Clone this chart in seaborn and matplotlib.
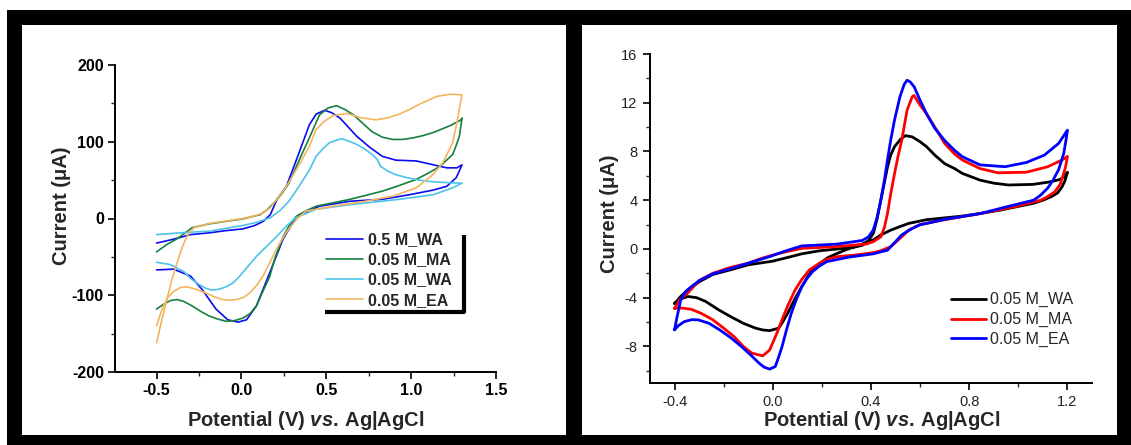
import numpy as np
import pandas as pd
import matplotlib
matplotlib.use("Agg")
import matplotlib.pyplot as plt
from matplotlib.patches import Rectangle
from matplotlib.ticker import MultipleLocator
import seaborn as sns

# ---- left panel: CV loops (potential V, current uA) ----
wa05_v = [-0.5, -0.4, -0.3, -0.19, -0.1, 0.01, 0.08, 0.13, 0.17, 0.21, 0.265, 0.33, 0.40, 0.44, 0.49, 0.53,
          0.58, 0.63, 0.68, 0.755, 0.83, 0.91, 1.03, 1.13, 1.21, 1.27, 1.3,
          1.28, 1.265, 1.21, 1.13, 0.99, 0.83, 0.64, 0.46, 0.4, 0.36, 0.32, 0.245, 0.166, 0.088, 0.03,
          -0.02, -0.08, -0.15, -0.23, -0.30, -0.40, -0.5]
wa05_i = [-32, -27, -21, -18.7, -16, -13.5, -9, -3.5, 5, 25, 42, 80, 122, 136, 141, 138,
          131, 119, 107, 93, 81, 76, 75, 70, 66, 66, 70,
          60, 53, 42, 37, 31, 25, 22.5, 16, 10, 6.5, 1, -27, -71, -114, -132,
          -135, -132, -118, -93, -75, -66, -67]

ma_v = [-0.5, -0.44, -0.38, -0.29, -0.19, -0.1, 0.01, 0.11, 0.15, 0.19, 0.24, 0.28, 0.34, 0.40, 0.46, 0.51,
        0.56, 0.61, 0.66, 0.72, 0.77, 0.83, 0.89, 0.95, 1.01, 1.07, 1.13, 1.23, 1.29, 1.3,
        1.284, 1.265, 1.245, 1.17, 1.1, 1.03, 0.93, 0.83, 0.64, 0.44, 0.38, 0.324, 0.285, 0.245, 0.2,
        0.166, 0.12, 0.088, 0.05, 0.01, -0.04, -0.09, -0.14, -0.19, -0.24, -0.29, -0.34, -0.38, -0.42,
        -0.46, -0.5]
ma_i = [-43.5, -34, -26.5, -12, -7, -4, -0.5, 5, 11, 20, 33, 46, 76, 105, 135, 144,
        147, 142, 135, 123, 113, 106, 103, 103, 105, 108, 112, 121, 128, 131,
        107, 95, 83.5, 68, 59, 51, 43, 35.6, 25, 16, 10, 3, -8, -24, -50,
        -76, -98, -114, -124, -129.6, -133, -134, -131, -127, -121, -114, -108, -105.6, -107,
        -112, -118]

wa_v = [-0.5, -0.35, -0.19, 0.01, 0.09, 0.17, 0.23, 0.28, 0.34, 0.40, 0.44, 0.48, 0.52, 0.59, 0.63, 0.68,
        0.73, 0.77, 0.8, 0.82, 0.86, 0.91, 0.98, 1.05, 1.12, 1.19, 1.3,
        1.245, 1.13, 0.93, 0.64, 0.44, 0.32, 0.26, 0.21, 0.15, 0.09, 0.04, -0.01, -0.05, -0.09, -0.13,
        -0.17, -0.21, -0.25, -0.3, -0.34, -0.42, -0.5]
wa_i = [-21, -18.5, -16.5, -9, -5, 1, 11, 22.6, 42, 63, 81, 91, 99, 104, 101, 96.5,
        90, 83.5, 77, 68, 62, 57, 53, 50, 48, 47, 46,
        40, 31, 25, 18, 12, 1, -11, -23, -36, -49, -62, -75, -84, -89, -92,
        -93.5, -91, -86, -78, -69, -60, -57]

ea_v = [-0.5, -0.47, -0.44, -0.41, -0.38, -0.35, -0.32, -0.28, -0.19, 0.01, 0.07, 0.13, 0.17, 0.2, 0.26,
        0.34, 0.40, 0.44, 0.49, 0.54, 0.62, 0.70, 0.79, 0.86, 0.93, 0.99, 1.05, 1.1, 1.15, 1.23, 1.3,
        1.29, 1.284, 1.265, 1.245, 1.21, 1.186, 1.127, 1.03, 0.89, 0.735, 0.54, 0.38, 0.33, 0.284,
        0.245, 0.206, 0.166, 0.127, 0.09, 0.049, 0.01, -0.03, -0.07, -0.11, -0.16, -0.21, -0.27,
        -0.32, -0.36, -0.40, -0.43, -0.46, -0.48, -0.5]
ea_i = [-162, -133, -106, -80, -58, -38, -23, -12, -6.5, 0, 3, 7.4, 14, 22.6, 40,
        70, 94, 116, 127, 134, 137, 131.5, 128.5, 131, 136, 142, 149, 154, 159, 162, 161,
        150, 142, 120, 99, 83, 72.5, 57, 40, 29, 22.6, 16, 9.6, 0, -12,
        -25, -40, -58, -75, -87, -97, -103, -105.6, -106.5, -105.6, -102, -97, -92,
        -89, -90, -95, -102, -114, -126, -140]

left_labels = ["0.5 M_WA", "0.05 M_MA", "0.05 M_WA", "0.05 M_EA"]
left_colors = ["#0b0bef", "#17803d", "#4cc3ea", "#f2b561"]

# ---- right panel ----
r_wa_v = [-0.4, -0.375, -0.346, -0.3, -0.245, -0.17, -0.1, 0.0, 0.06, 0.118, 0.19, 0.263, 0.33, 0.365,
          0.39, 0.41, 0.425, 0.44, 0.455, 0.467, 0.48, 0.496, 0.52, 0.54, 0.568, 0.6, 0.626, 0.66,
          0.70, 0.74, 0.772, 0.844, 0.9, 0.96, 1.06, 1.127, 1.17, 1.19, 1.2,
          1.19, 1.178, 1.16, 1.135, 1.1, 1.062, 0.99, 0.917, 0.84, 0.772, 0.7, 0.626, 0.554, 0.52,
          0.481, 0.44, 0.409, 0.37, 0.336, 0.3, 0.263, 0.225, 0.19, 0.15, 0.118, 0.09, 0.06, 0.04,
          0.024, -0.013, -0.04, -0.07, -0.12, -0.172, -0.22, -0.274, -0.31, -0.346, -0.375, -0.4]
r_wa_i = [-4.5, -3.9, -3.36, -2.7, -2.1, -1.7, -1.3, -1.0, -0.7, -0.4, -0.15, 0, 0.15, 0.3,
          0.7, 1.3, 2.5, 4.0, 5.5, 6.7, 7.7, 8.4, 9.0, 9.3, 9.2, 8.8, 8.4, 7.7,
          7.0, 6.6, 6.2, 5.65, 5.4, 5.25, 5.3, 5.5, 5.7, 6.0, 6.3,
          5.6, 5.1, 4.6, 4.3, 4.0, 3.75, 3.45, 3.15, 2.9, 2.7, 2.55, 2.4, 2.1, 1.85,
          1.55, 1.15, 0.74, 0.45, 0.2, -0.05, -0.36, -0.7, -1.2, -2.0, -3.1, -4.1, -5.3, -6.0,
          -6.5, -6.7, -6.65, -6.5, -6.1, -5.55, -5.0, -4.3, -4.0, -3.9, -4.1, -4.45]

r_ma_v = [-0.4, -0.38, -0.346, -0.3, -0.245, -0.17, -0.1, -0.05, 0.0, 0.06, 0.118, 0.263, 0.38, 0.41,
          0.44, 0.455, 0.467, 0.48, 0.496, 0.51, 0.525, 0.547, 0.568, 0.575, 0.6, 0.626, 0.66, 0.70,
          0.74, 0.772, 0.844, 0.917, 1.033, 1.12, 1.178, 1.2,
          1.193, 1.185, 1.17, 1.149, 1.12, 1.091, 0.99, 0.844, 0.70, 0.6, 0.554, 0.52, 0.481, 0.44,
          0.409, 0.336, 0.263, 0.22, 0.19, 0.15, 0.118, 0.09, 0.06, 0.04, 0.017, -0.013, -0.041,
          -0.085, -0.12, -0.157, -0.2, -0.245, -0.29, -0.332, -0.37, -0.4]
r_ma_i = [-4.9, -4.2, -3.6, -2.6, -2.0, -1.5, -1.17, -0.8, -0.5, -0.2, 0.05, 0.2, 0.4, 0.6,
          1.0, 1.8, 2.9, 4.5, 6.2, 7.6, 8.9, 11.4, 12.5, 12.6, 11.8, 11.1, 10.0, 8.66,
          7.8, 7.3, 6.6, 6.25, 6.3, 6.75, 7.3, 7.6,
          6.8, 6.2, 5.3, 4.7, 4.3, 4.0, 3.5, 2.9, 2.4, 2.0, 1.55, 0.9, 0.2, -0.15,
          -0.3, -0.5, -0.63, -0.85, -1.17, -1.7, -2.5, -3.4, -4.7, -5.7, -6.9, -8.3, -8.77,
          -8.55, -8.0, -7.2, -6.5, -5.8, -5.3, -4.95, -4.85, -4.86]

r_ea_v = [-0.4, -0.39, -0.375, -0.355, -0.332, -0.3, -0.245, -0.17, -0.1, -0.013, 0.046, 0.118, 0.263,
          0.365, 0.39, 0.409, 0.425, 0.44, 0.455, 0.467, 0.48, 0.496, 0.518, 0.535, 0.547, 0.56, 0.576,
          0.6, 0.626, 0.66, 0.70, 0.74, 0.772, 0.844, 0.946, 1.033, 1.106, 1.164, 1.2,
          1.193, 1.185, 1.164, 1.14, 1.12, 1.09, 1.062, 0.96, 0.844, 0.70, 0.597, 0.56, 0.525, 0.495,
          0.467, 0.409, 0.307, 0.22, 0.19, 0.162, 0.14, 0.118, 0.095, 0.075, 0.055, 0.038, 0.02, 0.01,
          -0.013, -0.035, -0.056, -0.09, -0.128, -0.17, -0.216, -0.26, -0.303, -0.33, -0.36, -0.385, -0.4]
r_ea_i = [-6.6, -5.6, -4.2, -3.5, -3.1, -2.6, -2.05, -1.6, -1.17, -0.63, -0.2, 0.25, 0.4,
          0.7, 1.0, 1.55, 2.6, 4.0, 5.7, 7.3, 8.9, 10.6, 12.5, 13.5, 13.85, 13.7, 13.3,
          12.2, 11.1, 9.9, 8.9, 8.1, 7.57, 6.9, 6.75, 7.1, 7.7, 8.66, 9.75,
          8.8, 7.85, 6.5, 5.6, 5.0, 4.4, 4.0, 3.5, 2.9, 2.43, 1.97, 1.6, 1.15, 0.5,
          -0.1, -0.4, -0.68, -1.04, -1.4, -1.86, -2.4, -3.1, -4.2, -5.3, -6.7, -8.0, -9.1, -9.65,
          -9.86, -9.7, -9.37, -8.7, -8.0, -7.3, -6.64, -6.1, -5.82, -5.8, -5.96, -6.3, -6.64]

right_labels = ["0.05 M_WA", "0.05 M_MA", "0.05 M_EA"]
right_colors = ["#000000", "#ff0000", "#0000ff"]


def build(vs, cs, labels):
    parts = []
    for v, c, lab in zip(vs, cs, labels):
        parts.append(pd.DataFrame({"potential": v, "current": c, "sample": lab}))
    return pd.concat(parts, ignore_index=True)


df_left = build([wa05_v, ma_v, wa_v, ea_v], [wa05_i, ma_i, wa_i, ea_i], left_labels)
df_right = build([r_wa_v, r_ma_v, r_ea_v], [r_wa_i, r_ma_i, r_ea_i], right_labels)

sns.set_theme(style="ticks")
plt.rcParams["font.family"] = ["Liberation Sans", "DejaVu Sans"]
plt.rcParams["axes.unicode_minus"] = False
plt.rcParams["mathtext.fontset"] = "custom"
plt.rcParams["mathtext.it"] = "Liberation Sans:italic:bold"
plt.rcParams["mathtext.rm"] = "Liberation Sans:bold"

W, H = 1131, 445
fig = plt.figure(figsize=(W / 100, H / 100), dpi=100, facecolor="white")

# black frame and white panels (behind the axes)
fig.patches.append(Rectangle((7 / W, 0), 1 - 7 / W, 1 - 10 / H, transform=fig.transFigure,
                             facecolor="black", edgecolor="none", zorder=-3))
for x0, x1 in [(22, 566), (582, 1117)]:
    fig.patches.append(Rectangle((x0 / W, 10 / H), (x1 - x0) / W, 410 / H, transform=fig.transFigure,
                                 facecolor="white", edgecolor="none", zorder=-2))

axL = fig.add_axes([115 / W, 1 - 372 / H, 381 / W, 307 / H])
axR = fig.add_axes([650 / W, 1 - 383 / H, 442 / W, 329 / H])
for ax in (axL, axR):
    ax.set_facecolor("none")

xlabel = r"Potential (V) $\mathit{vs.}\,$Ag|AgCl"

# ---- left ----
sns.lineplot(data=df_left, x="potential", y="current", hue="sample", hue_order=left_labels,
             palette=left_colors, sort=False, estimator=None, linewidth=1.2, ax=axL, legend=False)
axL.set_xlim(-0.745, 1.5)
axL.set_ylim(-200, 200)
axL.xaxis.set_major_locator(MultipleLocator(0.5))
axL.xaxis.set_minor_locator(MultipleLocator(0.25))
axL.yaxis.set_major_locator(MultipleLocator(100))
axL.yaxis.set_minor_locator(MultipleLocator(50))
axL.set_xticks([-0.5, 0.0, 0.5, 1.0, 1.5])
axL.set_xticklabels(["-0.5", "0.0", "0.5", "1.0", "1.5"])
axL.tick_params(which="major", direction="out", length=5, width=1.2, pad=3, labelsize=11.5,
                colors="black")
axL.tick_params(which="minor", direction="out", length=3, width=1.0)
for t in axL.get_xticklabels() + axL.get_yticklabels():
    t.set_fontweight("bold")
axL.set_xlabel(xlabel, fontsize=14.5, fontweight="bold")
axL.set_ylabel("Current (\u03bcA)", fontsize=14.5, fontweight="bold")
axL.xaxis.set_label_coords(0.5, -0.12)
axL.yaxis.set_label_coords(-0.115, 0.54)
for s in ("top", "right"):
    axL.spines[s].set_visible(False)
for s in ("left", "bottom"):
    axL.spines[s].set_linewidth(1.4)
    axL.spines[s].set_color("black")

legL = axL.legend(axL.lines[:4], left_labels, loc="upper left", bbox_to_anchor=(0.555, 0.455),
                  frameon=False, prop={"weight": "bold", "size": 11.5}, handlelength=2.3,
                  handletextpad=0.3, labelspacing=0.32, borderpad=0, borderaxespad=0)
axL.plot([0.916, 0.916], [0.447, 0.192], transform=axL.transAxes, color="black", lw=3,
         solid_capstyle="butt")
axL.plot([0.551, 0.918], [0.195, 0.195], transform=axL.transAxes, color="black", lw=3,
         solid_capstyle="butt")

# ---- right ----
sns.lineplot(data=df_right, x="potential", y="current", hue="sample", hue_order=right_labels,
             palette=right_colors, sort=False, estimator=None, linewidth=2.0, ax=axR, legend=False)
axR.set_xlim(-0.5, 1.3)
axR.set_ylim(-11, 16)
axR.xaxis.set_major_locator(MultipleLocator(0.4))
axR.xaxis.set_minor_locator(MultipleLocator(0.2))
axR.set_xticks([-0.4, 0.0, 0.4, 0.8, 1.2])
axR.set_xticklabels(["-0.4", "0.0", "0.4", "0.8", "1.2"])
axR.yaxis.set_major_locator(MultipleLocator(4))
axR.yaxis.set_minor_locator(MultipleLocator(2))
axR.set_yticks([-8, -4, 0, 4, 8, 12, 16])
axR.set_yticklabels(["-8", "-4", "0", "4", "8", "12", "16"])
axR.tick_params(which="major", direction="out", length=5, width=1.2, pad=4, labelsize=10.5,
                colors="black", labelcolor="#222222")
axR.tick_params(which="minor", direction="out", length=3, width=1.0)
axR.set_xlabel(xlabel, fontsize=14.5, fontweight="bold")
axR.set_ylabel("Current (\u03bcA)", fontsize=14.5, fontweight="bold")
axR.xaxis.set_label_coords(0.525, -0.08)
axR.yaxis.set_label_coords(-0.07, 0.515)
for s in ("top", "right"):
    axR.spines[s].set_visible(False)
for s in ("left", "bottom"):
    axR.spines[s].set_linewidth(1.4)
    axR.spines[s].set_color("black")

axR.legend(axR.lines[:3], right_labels, loc="upper left", bbox_to_anchor=(0.68, 0.276),
           frameon=False, prop={"size": 11.5}, handlelength=2.2, handletextpad=0.25,
           labelspacing=0.3, borderpad=0, borderaxespad=0)

fig.savefig("out.png", dpi=100, facecolor="white")
